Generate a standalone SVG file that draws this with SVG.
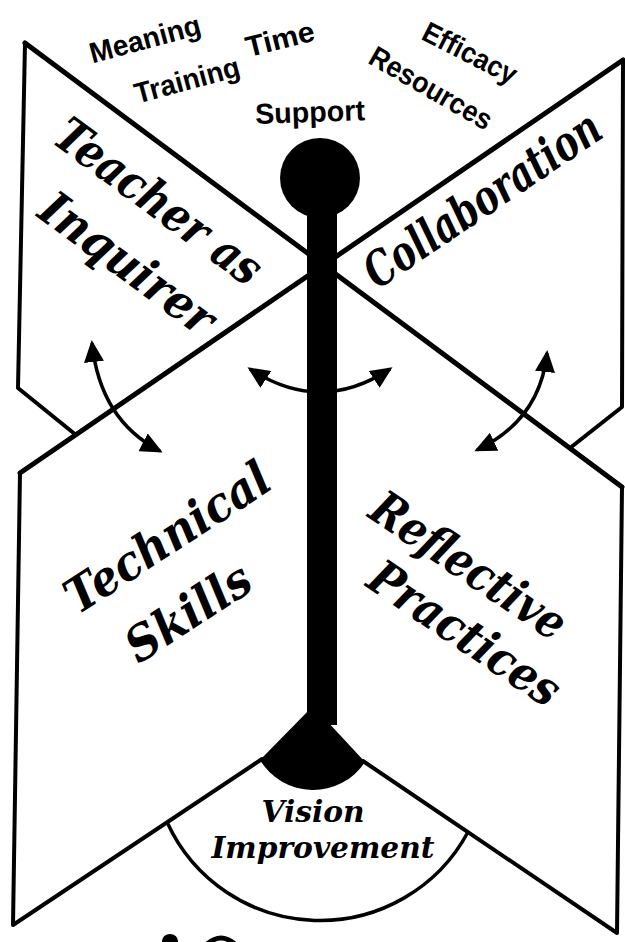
<svg xmlns="http://www.w3.org/2000/svg" width="625" height="942" viewBox="0 0 625 942">
<defs>
<marker id="ah" viewBox="0 0 22 20" refX="19" refY="10" markerWidth="22" markerHeight="20" markerUnits="userSpaceOnUse" orient="auto-start-reverse"><path d="M0,0 L22,10 L0,20 z" fill="#000"/></marker>
</defs>
<style>
.ln{fill:none;stroke:#000;stroke-width:5;stroke-linecap:round;stroke-linejoin:round}
.edge{fill:none;stroke:#000;stroke-width:4;stroke-linecap:round;stroke-linejoin:round}
.big{font-family:"DejaVu Serif","Liberation Serif",serif;font-weight:bold;font-style:italic;font-size:48px;fill:#000;text-anchor:middle}
.sans{font-family:"Liberation Sans",Arial,sans-serif;font-weight:bold;font-size:29px;fill:#000;text-anchor:middle}
.vis{font-family:"DejaVu Serif","Liberation Serif",serif;font-weight:bold;font-style:italic;font-size:30px;fill:#000;text-anchor:middle}
.arr{fill:none;stroke:#000;stroke-width:3.5;marker-start:url(#ah);marker-end:url(#ah)}
</style>
<rect width="625" height="942" fill="#fff"/>
<g id="frame">
<path class="ln" d="M25,43 L622,487"/>
<path class="ln" d="M623,60 L20,473"/>
</g>
<g id="wing-teacher-inquirer">
<path class="edge" d="M25,43 L18,388 L76,435"/>
<text class="big" transform="translate(159,201) rotate(36.5)" y="17" textLength="245" lengthAdjust="spacingAndGlyphs">Teacher as</text>
<text class="big" transform="translate(128,263) rotate(36.5)" y="17" textLength="205" lengthAdjust="spacingAndGlyphs">Inquirer</text>
</g>
<g id="wing-collaboration">
<path class="edge" d="M623,60 L622,407 L570,448"/>
<text class="big" transform="translate(482,199) rotate(-34)" y="17" textLength="275" lengthAdjust="spacingAndGlyphs">Collaboration</text>
</g>
<g id="wing-technical-skills">
<path class="edge" d="M20,473 L13,925 L262,759"/>
<text class="big" transform="translate(167,537) rotate(-33)" y="17" textLength="235" lengthAdjust="spacingAndGlyphs">Technical</text>
<text class="big" transform="translate(188,612) rotate(-33)" y="17" textLength="140" lengthAdjust="spacingAndGlyphs">Skills</text>
</g>
<g id="wing-reflective-practices">
<path class="edge" d="M622,487 L617,933 L363,761"/>
<text class="big" transform="translate(469,565) rotate(34)" y="17" textLength="225" lengthAdjust="spacingAndGlyphs">Reflective</text>
<text class="big" transform="translate(465,633) rotate(34)" y="17" textLength="220" lengthAdjust="spacingAndGlyphs">Practices</text>
</g>
<g id="vision-improvement">
<path d="M167,822 A168,168 0 0 0 468,832" fill="none" stroke="#000" stroke-width="3.5"/>
<text class="vis" x="313" y="822" textLength="103" lengthAdjust="spacingAndGlyphs">Vision</text>
<text class="vis" x="323" y="858" textLength="223" lengthAdjust="spacingAndGlyphs">Improvement</text>
</g>
<g id="connectors">
<path class="arr" d="M92,343 Q100,420 160,451"/>
<path class="arr" d="M250,369 Q320,415 390,369"/>
<path class="arr" d="M547,353 Q540,420 477,450"/>
</g>
<g id="pole">
<circle cx="320" cy="178" r="40" fill="#000"/>
<rect x="307" y="200" width="30" height="525" fill="#000"/>
<path d="M260,760 L313,706 L365,762 A62,62 0 0 1 260,760 Z" fill="#000"/>
</g>
<g id="factors">
<text class="sans" transform="translate(145,39) rotate(-15)" y="10" textLength="114" lengthAdjust="spacingAndGlyphs">Meaning</text>
<text class="sans" transform="translate(187,80) rotate(-15)" y="10" textLength="108" lengthAdjust="spacingAndGlyphs">Training</text>
<text class="sans" transform="translate(280,39) rotate(-14)" y="10" textLength="70" lengthAdjust="spacingAndGlyphs">Time</text>
<text class="sans" transform="translate(310,112) rotate(-2)" y="10" textLength="110" lengthAdjust="spacingAndGlyphs">Support</text>
<text class="sans" transform="translate(470,53) rotate(27)" y="10" textLength="102" lengthAdjust="spacingAndGlyphs">Efficacy</text>
<text class="sans" transform="translate(431,88) rotate(30)" y="10" textLength="137" lengthAdjust="spacingAndGlyphs">Resources</text>
</g>
<g id="cutoff-fragments">
<ellipse cx="170" cy="941" rx="8" ry="7" fill="#000"/>
<path d="M206,945 Q221,931 236,945" fill="none" stroke="#000" stroke-width="5"/>
</g>
</svg>
